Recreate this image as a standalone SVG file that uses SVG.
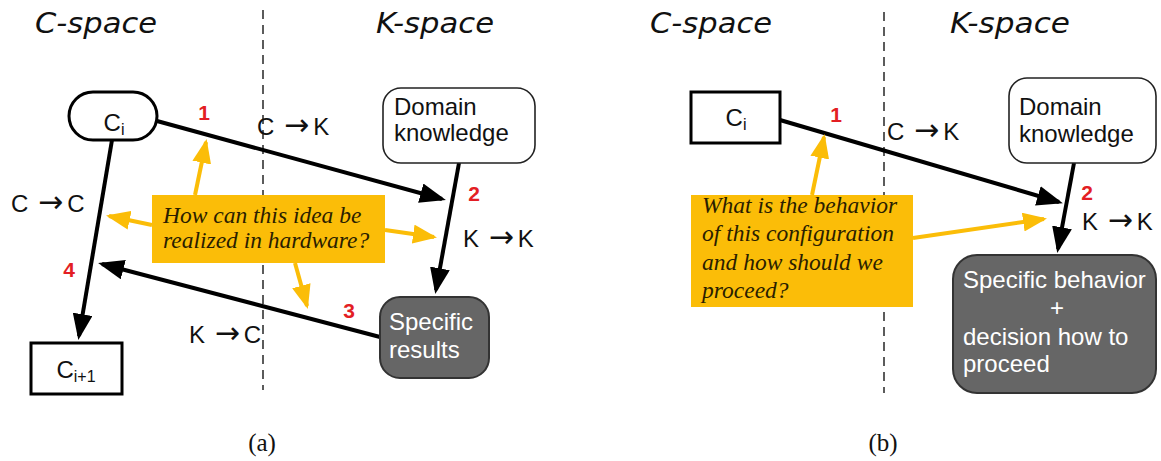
<svg xmlns="http://www.w3.org/2000/svg" width="1161" height="461" viewBox="0 0 1161 461">
<defs>
<style>
.title{font-family:"DejaVu Sans",sans-serif;font-style:italic;font-size:28px;fill:#111}
.lbl{font-family:"Liberation Sans",Arial,sans-serif;font-size:24px;fill:#111}
.arr{font-family:"DejaVu Sans",sans-serif;font-size:30px}
.wt{font-family:"Liberation Sans",Arial,sans-serif;font-size:24px;fill:#fff}
.num{font-family:"Liberation Sans",Arial,sans-serif;font-size:21px;font-weight:bold;fill:#e31e24;text-anchor:middle}
.q{font-family:"Liberation Serif","Times New Roman",serif;font-style:italic;font-size:23.5px;fill:#2a1e00}
.cap{font-family:"Liberation Serif","Times New Roman",serif;font-size:25px;fill:#111;text-anchor:middle}
.dash{stroke:#333;stroke-width:1.6;stroke-dasharray:9 6;fill:none}
.blk{stroke:#000;stroke-width:4;fill:none;marker-end:url(#ah)}
.yel{stroke:#fbbd08;stroke-width:4;fill:none;marker-end:url(#ay)}
.ybox{fill:#fbbd08}
.light{fill:#fff;stroke:#222;stroke-width:1.6}
.dark{fill:#666;stroke:#333;stroke-width:2}
.plain{fill:#fff;stroke:#000;stroke-width:3}
</style>
<marker id="ah" viewBox="0 0 26 20" refX="22" refY="10" markerWidth="26" markerHeight="20" markerUnits="userSpaceOnUse" orient="auto">
<path d="M0,0 L26,10 L0,20 z" fill="#000"/>
</marker>
<marker id="ay" viewBox="0 0 24 19" refX="21" refY="9.5" markerWidth="24" markerHeight="19" markerUnits="userSpaceOnUse" orient="auto">
<path d="M0,0 L24,9.5 L0,19 z" fill="#fbbd08"/>
</marker>
</defs>
<rect width="1161" height="461" fill="#fff"/>

<!-- headings -->
<text class="title" x="35" y="33" textLength="122" lengthAdjust="spacingAndGlyphs">C-space</text>
<text class="title" x="376" y="33" textLength="118" lengthAdjust="spacingAndGlyphs">K-space</text>
<text class="title" x="650" y="33" textLength="122" lengthAdjust="spacingAndGlyphs">C-space</text>
<text class="title" x="950" y="33" textLength="120" lengthAdjust="spacingAndGlyphs">K-space</text>

<!-- dividers -->
<line class="dash" x1="263" y1="10" x2="263" y2="390"/>
<line class="dash" x1="884" y1="12" x2="884" y2="393"/>

<!-- panel (a) question box -->
<g id="question-a">
<rect class="ybox" x="152" y="195" width="233" height="68"/>
<text class="q" x="163" y="223">How can this idea be</text>
<text class="q" x="163" y="248">realized in hardware?</text>
</g>
<!-- panel (b) question box -->
<g id="question-b">
<rect class="ybox" x="691" y="195" width="222" height="112"/>
<text class="q" x="702" y="213">What is the behavior</text>
<text class="q" x="702" y="241">of this configuration</text>
<text class="q" x="702" y="270">and how should we</text>
<text class="q" x="702" y="298">proceed?</text>
</g>

<g id="connectors">
<!-- panel (a) -->
<line class="blk" x1="157" y1="121" x2="442" y2="199"/>
<line class="blk" x1="459" y1="163" x2="436" y2="290"/>
<line class="blk" x1="380" y1="337" x2="102" y2="264"/>
<line class="blk" x1="112" y1="140" x2="79" y2="336"/>
<line class="yel" x1="195" y1="195" x2="206" y2="142"/>
<line class="yel" x1="152" y1="225" x2="109" y2="216"/>
<line class="yel" x1="385" y1="230" x2="434" y2="237"/>
<line class="yel" x1="295" y1="263" x2="307" y2="306"/>
<!-- panel (b) -->
<line class="blk" x1="780" y1="120" x2="1059" y2="202"/>
<line class="blk" x1="1074" y1="163" x2="1058" y2="249"/>
<line class="yel" x1="812" y1="195" x2="824" y2="137"/>
<line class="yel" x1="913" y1="238" x2="1044" y2="219"/>
</g>

<!-- panel (a) nodes -->
<g id="ci-a">
<rect class="plain" x="69" y="92" width="88" height="48" rx="24"/>
<text class="lbl" x="114" y="131" text-anchor="middle">C<tspan font-size="16" dy="4">i</tspan></text>
</g>
<g id="domain-a">
<rect class="light" x="383" y="88" width="152" height="75" rx="18"/>
<text class="lbl" x="394" y="115">Domain</text>
<text class="lbl" x="394" y="141">knowledge</text>
</g>
<g id="results-a">
<rect class="dark" x="380" y="297" width="109" height="81" rx="20"/>
<text class="wt" x="389" y="330">Specific</text>
<text class="wt" x="389" y="358">results</text>
</g>
<g id="ci1-a">
<rect class="plain" x="31" y="343" width="91" height="51"/>
<text class="lbl" x="76" y="378" text-anchor="middle">C<tspan font-size="16" dy="4">i+1</tspan></text>
</g>

<!-- panel (b) nodes -->
<g id="ci-b">
<rect class="plain" x="691" y="92" width="89" height="51" stroke-width="2.5"/>
<text class="lbl" x="736" y="126" text-anchor="middle">C<tspan font-size="16" dy="4">i</tspan></text>
</g>
<g id="domain-b">
<rect class="light" x="1009" y="78" width="147" height="85" rx="18"/>
<text class="lbl" x="1019" y="115">Domain</text>
<text class="lbl" x="1019" y="142">knowledge</text>
</g>
<g id="behavior-b">
<rect class="dark" x="953" y="255" width="203" height="138" rx="24"/>
<text class="wt" x="963" y="288">Specific behavior</text>
<text class="wt" x="1057" y="316" text-anchor="middle">+</text>
<text class="wt" x="963" y="345">decision how to</text>
<text class="wt" x="963" y="372">proceed</text>
</g>

<!-- transition labels -->
<g id="labels">
<text class="lbl" x="257" y="135">C <tspan class="arr" dx="3">→</tspan><tspan dx="4">K</tspan></text>
<text class="lbl" x="463" y="247">K <tspan class="arr" dx="3">→</tspan><tspan dx="4">K</tspan></text>
<text class="lbl" x="189" y="343">K <tspan class="arr" dx="3">→</tspan><tspan dx="4">C</tspan></text>
<text class="lbl" x="11" y="212">C <tspan class="arr" dx="3">→</tspan><tspan dx="4">C</tspan></text>
<text class="lbl" x="887" y="140">C <tspan class="arr" dx="3">→</tspan><tspan dx="4">K</tspan></text>
<text class="lbl" x="1082" y="230">K <tspan class="arr" dx="3">→</tspan><tspan dx="4">K</tspan></text>
<text class="num" x="204" y="120">1</text>
<text class="num" x="474" y="201">2</text>
<text class="num" x="349" y="318">3</text>
<text class="num" x="69" y="277">4</text>
<text class="num" x="836" y="122">1</text>
<text class="num" x="1087" y="200">2</text>
</g>

<text class="cap" x="262" y="451">(a)</text>
<text class="cap" x="883" y="451">(b)</text>
</svg>
